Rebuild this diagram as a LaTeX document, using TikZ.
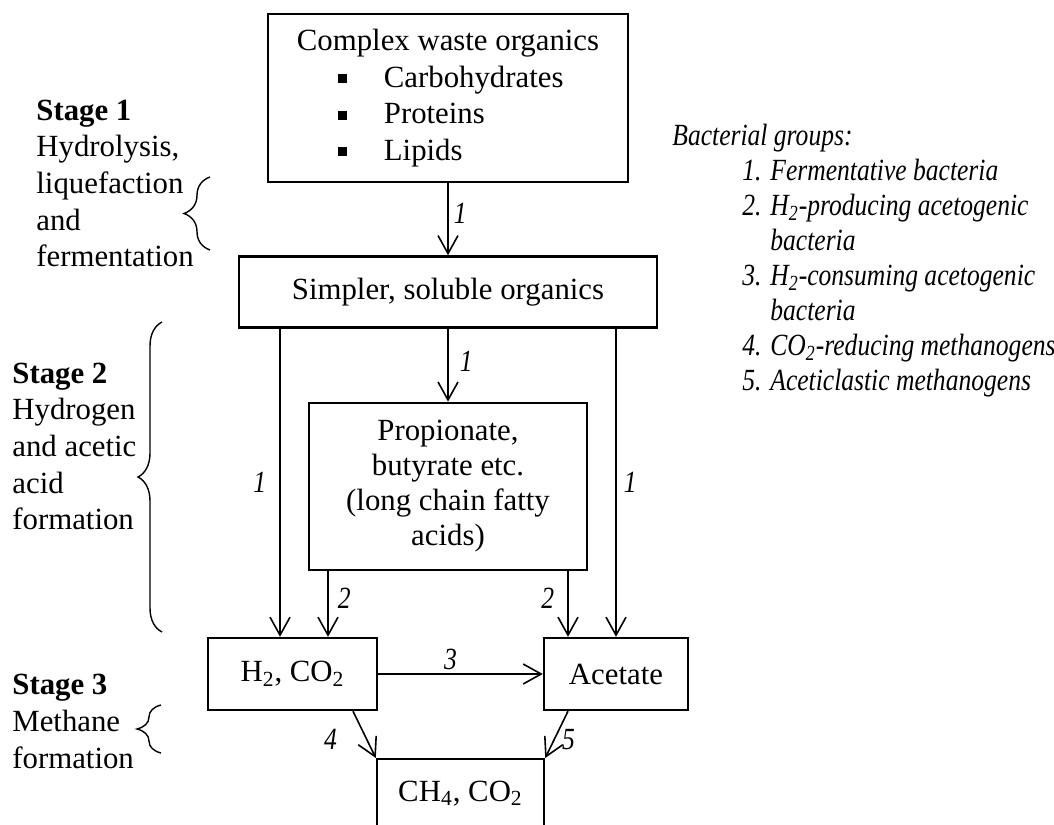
\documentclass[tikz,border=0pt]{standalone}
\usepackage{fontspec}
\setmainfont{Liberation Serif}[ItalicFeatures={FakeStretch=0.83}]
\usepackage{tikz}
\usetikzlibrary{positioning, calc, arrows.meta, decorations.pathreplacing}

\newcommand{\sqbullet}{\raisebox{2pt}{\rule{4.6pt}{4.6pt}}}

\begin{document}
\begin{tikzpicture}[
  x=0.5pt, y=-0.5pt,
  font=\fontsize{15.4}{18.3}\selectfont,
  >={Straight Barb[length=9pt,width=10pt]},
  box/.style={rectangle, draw, line width=1.2pt, inner sep=0pt},
  flow/.style={->, line width=0.8pt},
  num/.style={font=\fontsize{15.4}{18.3}\selectfont\itshape, inner sep=1.5pt},
  stagetext/.style={align=left, inner sep=0pt, anchor=west},
  stagebrace/.style={decorate, decoration={brace, amplitude=12pt}, line width=0.7pt}
]
\useasboundingbox (0,0) rectangle (1054,824);
\clip (0,0) rectangle (1054,824);

% --- Substrate boxes ---
\node[box, minimum width=180pt, minimum height=84pt, align=left] (complex) at (448,98) {%
  Complex waste organics\\
  \hspace*{20.5pt}\sqbullet\hspace*{18.4pt}Carbohydrates\\
  \hspace*{20.5pt}\sqbullet\hspace*{18.4pt}Proteins\\
  \hspace*{20.5pt}\sqbullet\hspace*{18.4pt}Lipids};

\node[box, minimum width=209pt, minimum height=35.5pt, below=36pt of complex] (simpler)
  {Simpler, soluble organics};

\node[box, minimum width=139pt, minimum height=83.5pt, below=36.5pt of simpler,
      align=center, font=\fontsize{15.4}{17.5}\selectfont] (acids)
  {Propionate,\\butyrate etc.\\(long chain fatty\\acids)};

\node[box, minimum width=84.5pt, minimum height=36pt] (h2) at (292.5,674)
  {H\textsubscript{2}, CO\textsubscript{2}};
\node[box, minimum width=72pt, minimum height=36pt] (acetate) at (616,674) {Acetate};

% --- Product box (runs off the page bottom) ---
\node[box, minimum width=83.5pt, text height=21pt, text depth=40pt, anchor=north] (methane)
  at (460.5,758) {CH\textsubscript{4}, CO\textsubscript{2}};

% --- x positions of the side arrows ---
\coordinate (xa) at (280,0);
\coordinate (xb) at (328,0);
\coordinate (xc) at (568,0);
\coordinate (xd) at (353,0);

% --- Flow arrows with bacterial group numbers ---
\draw[flow] (complex) -- node[num, right=1pt, pos=0.42] {1} (simpler);
\draw[flow] (simpler) -- node[num, right=4pt, pos=0.45] {1} (acids);
\draw[flow] (simpler.south -| xa) -- node[num, left=5pt] {1} (h2.north -| xa);
\draw[flow] (simpler.south -| acetate) -- node[num, right=2pt] {1} (acetate);
\draw[flow] (acids.south -| xb) -- node[num, right=3pt, pos=0.41] {2} (h2.north -| xb);
\draw[flow] (acids.south -| xc) -- node[num, left=5pt, pos=0.41] {2} (acetate.north -| xc);
\draw[flow] (h2) -- node[num, above=0pt, pos=0.44] {3} (acetate);
\draw[flow] (h2.south -| xd) -- node[num, left=13pt, pos=0.6] {4} (methane.north west);
\draw[flow] (acetate.south -| xc) -- node[num, right=2pt, pos=0.6] {5} (methane.north east);

% --- Stages on the left ---
\node[stagetext] (stage1) at (36,183.5)
  {\textbf{Stage 1}\\Hydrolysis,\\liquefaction\\and\\fermentation};
\node[stagetext] (stage2) at (12,446.5)
  {\textbf{Stage 2}\\Hydrogen\\and acetic\\acid\\formation};
\node[stagetext] (stage3) at (12,721.5)
  {\textbf{Stage 3}\\Methane\\formation};

\draw[stagebrace, decoration={amplitude=13pt}] (210,250) -- (210,177);
\draw[stagebrace] (162,632) -- (162,322);
\draw[stagebrace] (161,753) -- (161,705);

% --- Legend of bacterial groups ---
\node[align=left, anchor=west, inner sep=0pt, font=\fontsize{15.4}{17.5}\selectfont\itshape] (groups)
  at (672,261) {%
  Bacterial groups:\\
  \hspace*{35pt}\makebox[14pt][l]{1.}Fermentative bacteria\\
  \hspace*{35pt}\makebox[14pt][l]{2.}H\textsubscript{2}-producing acetogenic\\
  \hspace*{49pt}bacteria\\
  \hspace*{35pt}\makebox[14pt][l]{3.}H\textsubscript{2}-consuming acetogenic\\
  \hspace*{49pt}bacteria\\
  \hspace*{35pt}\makebox[14pt][l]{4.}CO\textsubscript{2}-reducing methanogens\\
  \hspace*{35pt}\makebox[14pt][l]{5.}Aceticlastic methanogens};

\end{tikzpicture}
\end{document}
